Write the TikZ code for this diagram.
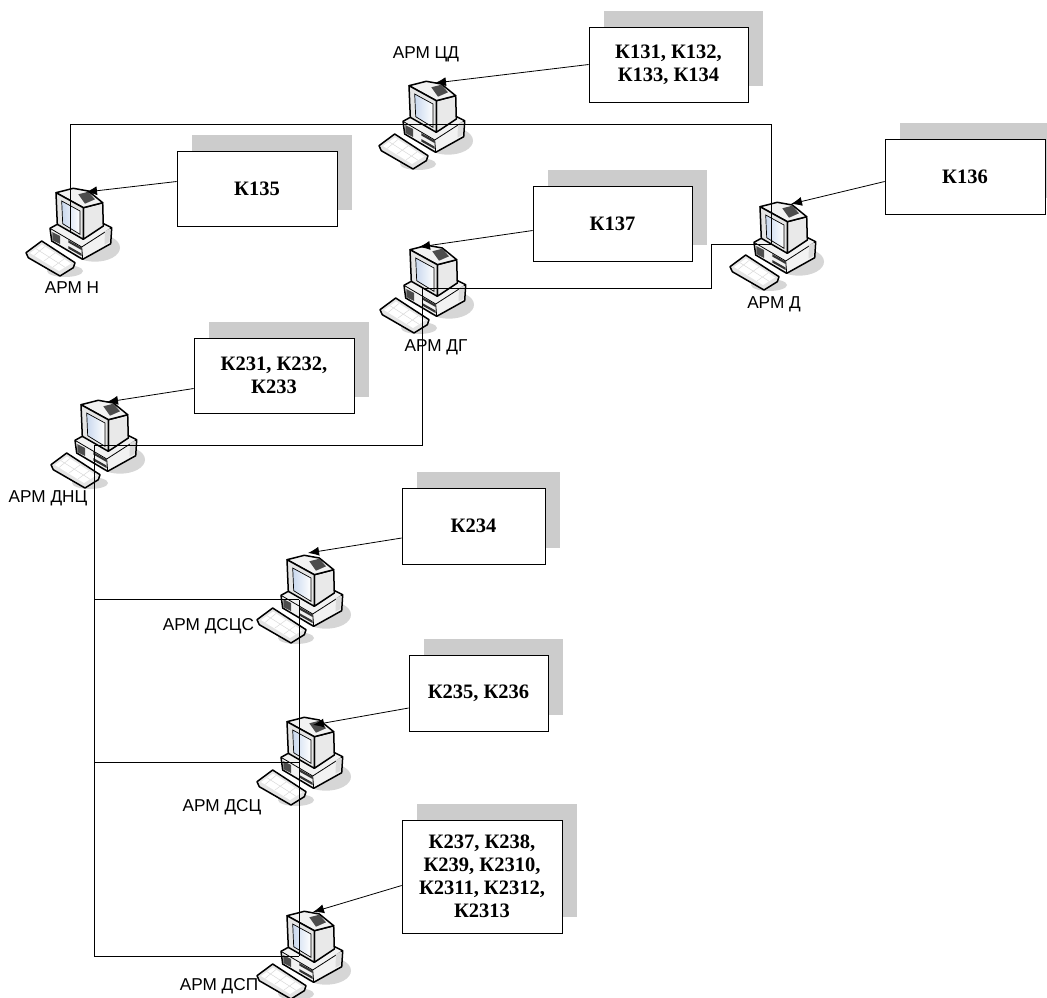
\documentclass[tikz,border=0pt]{standalone}
\usepackage{fontspec}
\setmainfont{Liberation Sans}
\newfontfamily\boxfont{Liberation Serif}
\usetikzlibrary{arrows.meta,shadows}
\definecolor{grisombre}{HTML}{CCCCCC}
\definecolor{griscorps}{HTML}{F2F2F2}
\definecolor{griscote}{HTML}{DADADA}
\definecolor{ecran}{HTML}{C9D8EE}
\tikzset{
  arm/.pic={
    \fill[black!16] (10,53.7) ellipse (25 and 14);
    \fill[black!16] (-20,77) ellipse (18 and 6);
    \draw[line width=1.5pt, line join=round, fill=griscorps] (-35,34.3) -- (-33.3,47) -- (-2.3,65.3) -- (25.7,49.7) -- (26.7,33.7) -- (16.7,28.7) -- (-27.7,30.3) -- cycle;
    \draw[line width=0.8pt] (-35,34.3) -- (-3.3,53) -- (26.7,33.7) (-3.3,53) -- (-2.3,65.3);
    \fill[black!70] (-32.7,38) -- (-25,42) -- (-25,50) -- (-32.7,46) -- cycle;
    \fill[black!80] (-16.7,46) -- (-3.5,53.5) -- (-3.5,56) -- (-16.7,48.5) -- cycle;
    \fill[black!80] (-16.7,52) -- (-3.5,59.5) -- (-3.5,62) -- (-16.7,54.5) -- cycle;
    \fill[griscote] (20,37) -- (25,34.5) -- (24.5,48) -- (19.5,50.5) -- cycle;
    \draw[line width=1.5pt, line join=round, fill=griscote!60] (-1.7,13.7) -- (17.7,8.7) -- (18.3,32) -- (-1.7,45.3) -- cycle;
    \draw[line width=1.5pt, line join=round, fill=griscorps] (-29,-1.3) -- (-11.7,-5.7) -- (3.3,-3) -- (17.7,8.7) -- (-1.7,13.7) -- cycle;
    \fill[black!70] (-6.7,0.3) -- (3.3,-2.3) -- (10,5.3) -- (0,9.7) -- cycle;
    \draw[line width=1.5pt, line join=round, fill=griscote!70] (-29,-1.3) -- (-1.7,13.7) -- (-1.7,45.3) -- (-27.7,30.3) -- cycle;
    \shade[left color=ecran, right color=white, draw=black, line width=0.7pt] (-23.3,7) -- (-5,17) -- (-5,40.3) -- (-22.3,29.7) -- cycle;
    \draw[line width=1.5pt, line join=round, fill=griscote!70] (-59,58.7) -- (-43.3,47) -- (-10,68.7) -- (-11.7,73.7) -- (-25,82) -- (-56.7,63.7) -- cycle;
    \fill[white] (-55,59) -- (-43,50.5) -- (-14,69.5) -- (-26,77) -- cycle;
    \draw[griscote, line width=0.5pt] (-49,54.7) -- (-20,73.2) (-40,52.5) -- (-51,61.5) (-30,59) -- (-41,67) (-21,65) -- (-32,73);
  },
  box/.style={draw, line width=0.7pt, fill=white, font=\boxfont\bfseries\fontsize{20.5}{23}\selectfont, align=center, inner sep=0pt,
    drop shadow={shadow xshift=15pt, shadow yshift=16pt, fill=grisombre, opacity=1}},
  label/.style={font=\fontsize{17.2}{20}\selectfont, inner sep=0pt},
  liaison/.style={line width=0.7pt, black},
  appel/.style={-{Latex[length=11pt,width=9pt]}, line width=0.8pt}
}
\begin{document}
\begin{tikzpicture}[x=1pt,y=-1pt]
\useasboundingbox (0,0) rectangle (1047,997);

\pic (armcd) at (438,87) {arm};
\pic (armn) at (85,194) {arm};
\pic (armdg) at (439,251) {arm};
\pic (armd) at (789,208) {arm};
\pic (armdnc) at (110,406) {arm};
\pic (armdscs) at (316,561) {arm};
\pic (armdsc) at (316,723) {arm};
\pic (armdsp) at (316,917) {arm};

\node[label] (lcd) at (426,54) {АРМ ЦД};
\node[label] (ln) at (72,288) {АРМ Н};
\node[label] (ldg) at (436,347) {АРМ ДГ};
\node[label] (ld) at (774,304) {АРМ Д};
\node[label] (ldnc) at (48,498) {АРМ ДНЦ};
\node[label] (ldscs) at (208.5,626) {АРМ ДСЦС};
\node[label] (ldsc) at (222,807) {АРМ ДСЦ};
\node[label] (ldsp) at (219,986) {АРМ ДСП};

\node[box, minimum width=159pt, minimum height=75pt] (k131) at (668.5,64.5) {К131, К132,\\ К133, К134};
\node[box, minimum width=160pt, minimum height=75pt] (k135) at (257,188.5) {К135};
\node[box, minimum width=159pt, minimum height=75pt] (k137) at (612.5,223.5) {К137};
\node[box, minimum width=160pt, minimum height=75pt] (k136) at (965,176.5) {К136};
\node[box, minimum width=160pt, minimum height=75pt] (k231) at (274,375.5) {К231, К232,\\ К233};
\node[box, minimum width=143pt, minimum height=76pt] (k234) at (473.5,526) {К234};
\node[box, minimum width=139pt, minimum height=76pt] (k235) at (478.5,693) {К235, К236};
\node[box, minimum width=160pt, minimum height=113pt] (k237) at (482,876.5) {К237, К238,\\ К239, К2310,\\ К2311, К2312,\\ К2313};

\coordinate (tcd) at (435,83);
\coordinate (tn) at (86,192);
\coordinate (tdg) at (419,247);
\coordinate (td) at (791,204);
\coordinate (tdnc) at (107,402);
\coordinate (tdscs) at (308,553);
\coordinate (tdsc) at (313,725);
\coordinate (tdsp) at (313,912);
\draw[appel] (k131.west) -- (tcd);
\draw[appel] ([yshift=7pt]k135.west) -- (tn);
\draw[appel] ([yshift=-7pt]k137.west) -- (tdg);
\draw[appel] ([yshift=-5pt]k136.west) -- (td);
\draw[appel] ([yshift=-13pt]k231.west) -- (tdnc);
\draw[appel] ([yshift=-12pt]k234.west) -- (tdscs);
\draw[appel] ([yshift=-15pt]k235.west) -- (tdsc);
\draw[appel] ([yshift=-9pt]k237.west) -- (tdsp);

\coordinate (pn) at (70,233);
\coordinate (pd) at (771,244);
\coordinate (pdg) at (422,288.5);
\coordinate (pdnc) at (94,445);
\coordinate (ps1) at (299,599.5);
\coordinate (ps2) at (299,762);
\coordinate (ps3) at (299,956);
\draw[liaison] (pn) -- (70,124) -- (771,124) -- (pd);
\draw[liaison] (pdg) -- (711,288.5) -- (711,244) -- (pd);
\draw[liaison] (pdg) -- (422,445) -- (pdnc);
\draw[liaison] (pdnc) -- (94,956) -- (ps3);
\draw[liaison] (94,599.5) -- (ps1);
\draw[liaison] (94,762) -- (ps2);
\draw[liaison] (ps1) -- (ps3);
\end{tikzpicture}
\end{document}
